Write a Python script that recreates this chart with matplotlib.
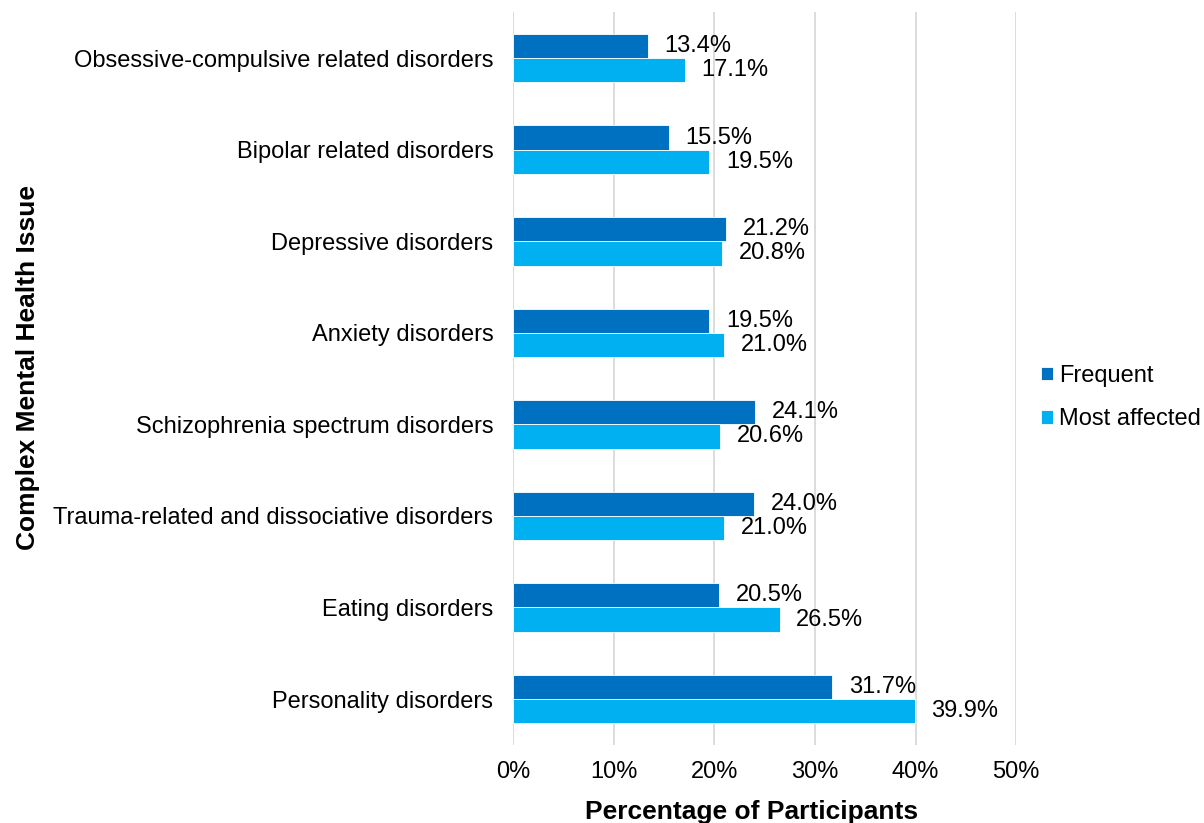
import numpy as np
import matplotlib
matplotlib.use('Agg')
from matplotlib import pyplot as plt
from matplotlib.ticker import FuncFormatter

plt.rcParams['font.family'] = ['Liberation Sans', 'DejaVu Sans']

categories = [
    'Personality disorders',
    'Eating disorders',
    'Trauma-related and dissociative disorders',
    'Schizophrenia spectrum disorders',
    'Anxiety disorders',
    'Depressive disorders',
    'Bipolar related disorders',
    'Obsessive-compulsive related disorders',
]
frequent = [31.7, 20.5, 24.0, 24.1, 19.5, 21.2, 15.5, 13.4]
most_affected = [39.9, 26.5, 21.0, 20.6, 21.0, 20.8, 19.5, 17.1]

c_freq = '#0070C0'
c_most = '#00B0F0'

fig = plt.figure(figsize=(12.04, 8.23), dpi=100)
ax = fig.add_axes([0.426, 0.095, 0.418, 0.89])

y = np.arange(len(categories))
h = 0.265
b1 = ax.barh(y + h / 2, frequent, h, color=c_freq, edgecolor='white', linewidth=0.6,
             label='Frequent', zorder=3)
b2 = ax.barh(y - h / 2, most_affected, h, color=c_most, edgecolor='white', linewidth=0.6,
             label='Most affected', zorder=3)

for bars in (b1, b2):
    ax.bar_label(bars, labels=[f'{v.get_width():.1f}%' for v in bars], padding=12,
                 fontsize=17)

ax.set_xlim(0, 50)
ax.set_ylim(-0.5, len(categories) - 0.5)
ax.set_xticks(np.arange(0, 51, 10))
ax.xaxis.set_major_formatter(FuncFormatter(lambda v, p: f'{v:.0f}%'))
ax.set_yticks(y)
ax.set_yticklabels(categories)
ax.tick_params(axis='both', length=0, labelsize=17)
ax.tick_params(axis='x', pad=12)
ax.tick_params(axis='y', pad=14)
ax.grid(axis='x', color='#d9d9d9', linewidth=1.3, zorder=0)
for s in ax.spines.values():
    s.set_visible(False)

ax.set_xlabel('Percentage of Participants', fontsize=19, fontweight='bold')
ax.xaxis.set_label_coords(0.474, -0.075)
ax.set_ylabel('Complex Mental Health Issue', fontsize=19, fontweight='bold')
ax.yaxis.set_label_coords(-0.94, 0.515)

ax.legend(handles=[b1, b2], loc='center left', bbox_to_anchor=(1.05, 0.474), frameon=False,
          fontsize=17, handlelength=0.5, handleheight=0.5, handletextpad=0.25,
          labelspacing=0.9, borderpad=0, borderaxespad=0)

fig.savefig('out.png', dpi=100)
